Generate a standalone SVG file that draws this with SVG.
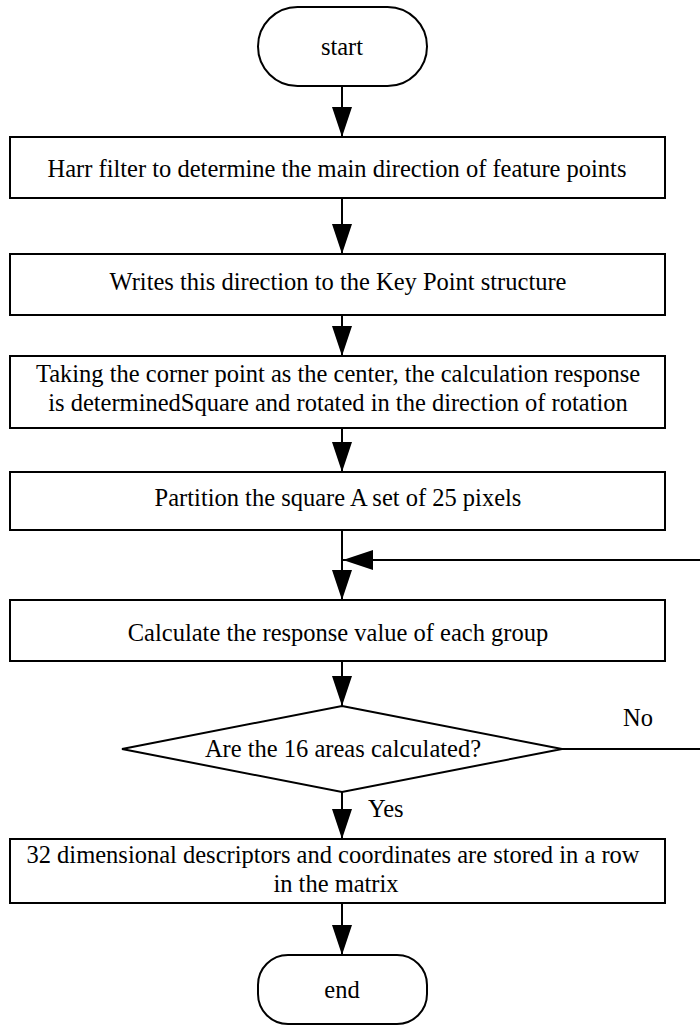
<svg xmlns="http://www.w3.org/2000/svg" width="700" height="1026" viewBox="0 0 700 1026">
<style>
.s{fill:#fff;stroke:#000;stroke-width:2}
.t{font-family:'Liberation Serif','Times New Roman',Times,serif;font-size:24.5px;fill:#000;text-anchor:middle}
.l{font-family:'Liberation Serif','Times New Roman',Times,serif;font-size:24.5px;fill:#000}
.c{stroke:#000;stroke-width:2;fill:none}
</style>
<defs>
<marker id="a" markerUnits="userSpaceOnUse" markerWidth="30" markerHeight="20" refX="30" refY="10" orient="auto" viewBox="0 0 30 20">
<path d="M0,0 L30,10 L0,20 Z" fill="#000"/>
</marker>
</defs>
<rect width="700" height="1026" fill="#fff"/>
<g id="connectors">
<line class="c" x1="342" y1="86" x2="342" y2="137" marker-end="url(#a)"/>
<line class="c" x1="342" y1="198" x2="342" y2="254" marker-end="url(#a)"/>
<line class="c" x1="342" y1="315" x2="342" y2="356" marker-end="url(#a)"/>
<line class="c" x1="342" y1="428" x2="342" y2="472" marker-end="url(#a)"/>
<line class="c" x1="342" y1="530" x2="342" y2="600" marker-end="url(#a)"/>
<line class="c" x1="700" y1="560" x2="343" y2="560" marker-end="url(#a)"/>
<line class="c" x1="342" y1="661" x2="342" y2="706" marker-end="url(#a)"/>
<line class="c" x1="562" y1="749" x2="700" y2="749"/>
<line class="c" x1="342" y1="792" x2="342" y2="839" marker-end="url(#a)"/>
<line class="c" x1="342" y1="903" x2="342" y2="955" marker-end="url(#a)"/>
<text class="l" x="623" y="726">No</text>
<text class="l" x="368" y="817">Yes</text>
</g>
<g id="start">
<rect class="s" x="258" y="7" width="169" height="79" rx="39.5"/>
<text class="t" x="342" y="55">start</text>
</g>
<g id="step1">
<rect class="s" x="10" y="137" width="655" height="61"/>
<text class="t" x="337" y="177">Harr filter to determine the main direction of feature points</text>
</g>
<g id="step2">
<rect class="s" x="10" y="254" width="655" height="61"/>
<text class="t" x="338" y="290">Writes this direction to the Key Point structure</text>
</g>
<g id="step3">
<rect class="s" x="10" y="356" width="655" height="72"/>
<text class="t" x="338" y="382">Taking the corner point as the center, the calculation response</text>
<text class="t" x="338" y="411">is determinedSquare and rotated in the direction of rotation</text>
</g>
<g id="step4">
<rect class="s" x="10" y="472" width="655" height="58"/>
<text class="t" x="338" y="506">Partition the square A set of 25 pixels</text>
</g>
<g id="step5">
<rect class="s" x="10" y="600" width="655" height="61"/>
<text class="t" x="338" y="641">Calculate the response value of each group</text>
</g>
<g id="decision">
<polygon class="s" points="342,706 562,749 342,792 122,749"/>
<text class="t" x="343" y="757">Are the 16 areas calculated?</text>
</g>
<g id="step6">
<rect class="s" x="10" y="839" width="655" height="64"/>
<text class="t" x="333" y="863">32 dimensional descriptors and coordinates are stored in a row</text>
<text class="t" x="336" y="892">in the matrix</text>
</g>
<g id="end">
<rect class="s" x="258" y="955" width="169" height="69" rx="30"/>
<text class="t" x="342" y="998">end</text>
</g>
</svg>
